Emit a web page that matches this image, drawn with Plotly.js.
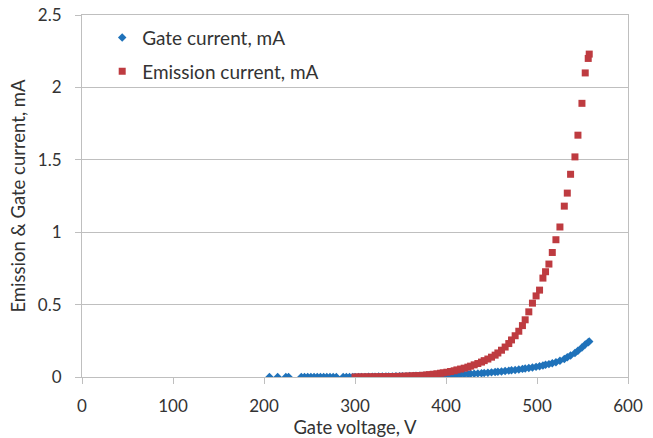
<!DOCTYPE html>
<html>
<head>
<meta charset="utf-8">
<script src="https://cdn.plot.ly/plotly-3.0.1.min.js"></script>
<style>html,body{margin:0;padding:0;background:#fff;}#chart{width:653px;height:438px;}</style>
</head>
<body>
<div id="chart"></div>
<script>
// Gate current (blue diamonds)
var gateVoltage = [206, 215, 224, 227, 241, 244.5, 248, 251.5, 255, 258.5, 262, 265.5, 269, 272.5, 276, 279.5, 287, 290.5, 294, 297.5,
  300, 304, 307, 311, 315, 319, 322, 326, 330, 334, 337, 341, 345, 349, 352, 356, 360, 364, 367, 371, 375, 379, 382, 386, 390, 394, 397,
  401, 405, 409, 412, 416, 420, 424, 427, 431, 435, 439, 442, 446, 450, 454, 457, 461, 465, 469, 472, 476, 480, 484, 487, 491, 495, 499,
  502.8, 506.5, 509.4, 513.1, 516.8, 520.8, 525.2, 530, 533.3, 536.9, 541.7, 545, 549.4, 553, 556.3, 557.4];
var gateCurrent = [0, 0, 0, 0, 0, 0, 0, 0, 0, 0, 0, 0, 0, 0, 0, 0, 0, 0, 0, 0,
  0.001, 0.001, 0.001, 0.001, 0.002, 0.002, 0.002, 0.003, 0.003, 0.003, 0.004, 0.004, 0.005, 0.005, 0.006, 0.006, 0.007, 0.007, 0.008, 0.008, 0.009, 0.010, 0.010, 0.011, 0.012, 0.013, 0.013,
  0.014, 0.015, 0.016, 0.017, 0.018, 0.019, 0.021, 0.022, 0.023, 0.025, 0.026, 0.028, 0.030, 0.032, 0.034, 0.036, 0.038, 0.041, 0.044, 0.046, 0.049, 0.052, 0.056, 0.059, 0.062, 0.066, 0.070,
  0.074, 0.079, 0.084, 0.089, 0.095, 0.102, 0.112, 0.125, 0.136, 0.148, 0.166, 0.182, 0.204, 0.224, 0.240, 0.246];

// Emission current (red squares)
var emissionVoltage = [300, 304, 307, 311, 315, 319, 322, 326, 330, 334, 337, 341, 345, 349, 352, 356, 360, 364, 367, 371, 375, 379, 382, 386, 390, 394, 397,
  401, 405, 409, 412, 416, 420, 424, 427, 431, 435, 439, 442, 446, 450, 454, 457, 461, 465, 469, 472, 476, 480, 484, 487, 491, 495, 499,
  502.8, 506.5, 509.4, 513.1, 516.8, 520.8, 525.2, 530, 533.3, 536.9, 541.7, 545, 549.4, 553, 556.3, 557.4];
var emissionCurrent = [0, 0, 0, 0.001, 0.001, 0.001, 0.001, 0.002, 0.002, 0.002, 0.003, 0.003, 0.004, 0.004, 0.005, 0.006, 0.007, 0.008, 0.009, 0.010, 0.012, 0.014, 0.016, 0.019, 0.022, 0.026, 0.029,
  0.033, 0.038, 0.043, 0.049, 0.055, 0.061, 0.068, 0.075, 0.084, 0.093, 0.103, 0.113, 0.124, 0.137, 0.151, 0.166, 0.185, 0.207, 0.231, 0.256, 0.285, 0.316, 0.355, 0.395, 0.45, 0.51, 0.56,
  0.60, 0.683, 0.727, 0.78, 0.86, 0.948, 1.036, 1.18, 1.27, 1.40, 1.52, 1.67, 1.89, 2.10, 2.20, 2.23];

var seriesNames = ['Gate current, mA', 'Emission current, mA'];
var xTickVals = [0, 100, 200, 300, 400, 500, 600];
var yTickVals = [0, 0.5, 1, 1.5, 2, 2.5];
var yTickText = ['0', '0.5', '1', '1.5', '2', '2.5'];

var FONT = 'Lato, "Open Sans", sans-serif';
var TXT = '#333333';
var GRID = '#BFBFBF';

var traces = [
  {
    x: gateVoltage, y: gateCurrent, type: 'scatter', mode: 'markers', name: seriesNames[0],
    legendgroup: 'g1',
    marker: {symbol: 'diamond', size: 6.5, color: '#1F72BA', line: {width: 0}}
  },
  {
    x: emissionVoltage, y: emissionCurrent, type: 'scatter', mode: 'markers', name: seriesNames[1],
    legendgroup: 'g2',
    marker: {symbol: 'square', size: 7, color: '#BE3B40', line: {width: 0}}
  }
];

var layout = {
  width: 653, height: 438,
  margin: {l: 82, r: 25.3, t: 15.3, b: 60.7},
  paper_bgcolor: '#ffffff', plot_bgcolor: '#ffffff',
  font: {family: FONT, size: 17, color: TXT},
  showlegend: true,
  legend: {
    x: 0.037, y: 0.99, xanchor: 'left', yanchor: 'top',
    bgcolor: 'rgba(0,0,0,0)', borderwidth: 0,
    font: {family: FONT, size: 19, color: TXT},
    traceorder: 'grouped', tracegroupgap: 6,
    itemwidth: 30
  },
  xaxis: {
    range: [0, 600], tickvals: xTickVals, ticktext: xTickVals.map(String),
    showgrid: false, zeroline: false,
    showline: true, linecolor: GRID, linewidth: 1, mirror: true,
    ticks: 'outside', ticklen: 6, tickcolor: GRID, tickwidth: 1,
    ticklabelstandoff: 8,
    tickfont: {family: FONT, size: 17, color: TXT},
    title: {text: 'Gate voltage, V', font: {family: FONT, size: 18.5, color: TXT}, standoff: 3}
  },
  yaxis: {
    range: [0, 2.5], tickvals: yTickVals, ticktext: yTickText,
    showgrid: true, gridcolor: GRID, gridwidth: 1, zeroline: false,
    showline: true, linecolor: GRID, linewidth: 1, mirror: true,
    ticks: 'outside', ticklen: 6, tickcolor: GRID, tickwidth: 1,
    ticklabelstandoff: 10,
    tickfont: {family: FONT, size: 17, color: TXT},
    title: {text: 'Emission &amp; Gate current, mA', font: {family: FONT, size: 18.5, color: TXT}, standoff: 7}
  }
};

Plotly.newPlot('chart', traces, layout, {displayModeBar: false, staticPlot: true});
</script>
</body>
</html>
